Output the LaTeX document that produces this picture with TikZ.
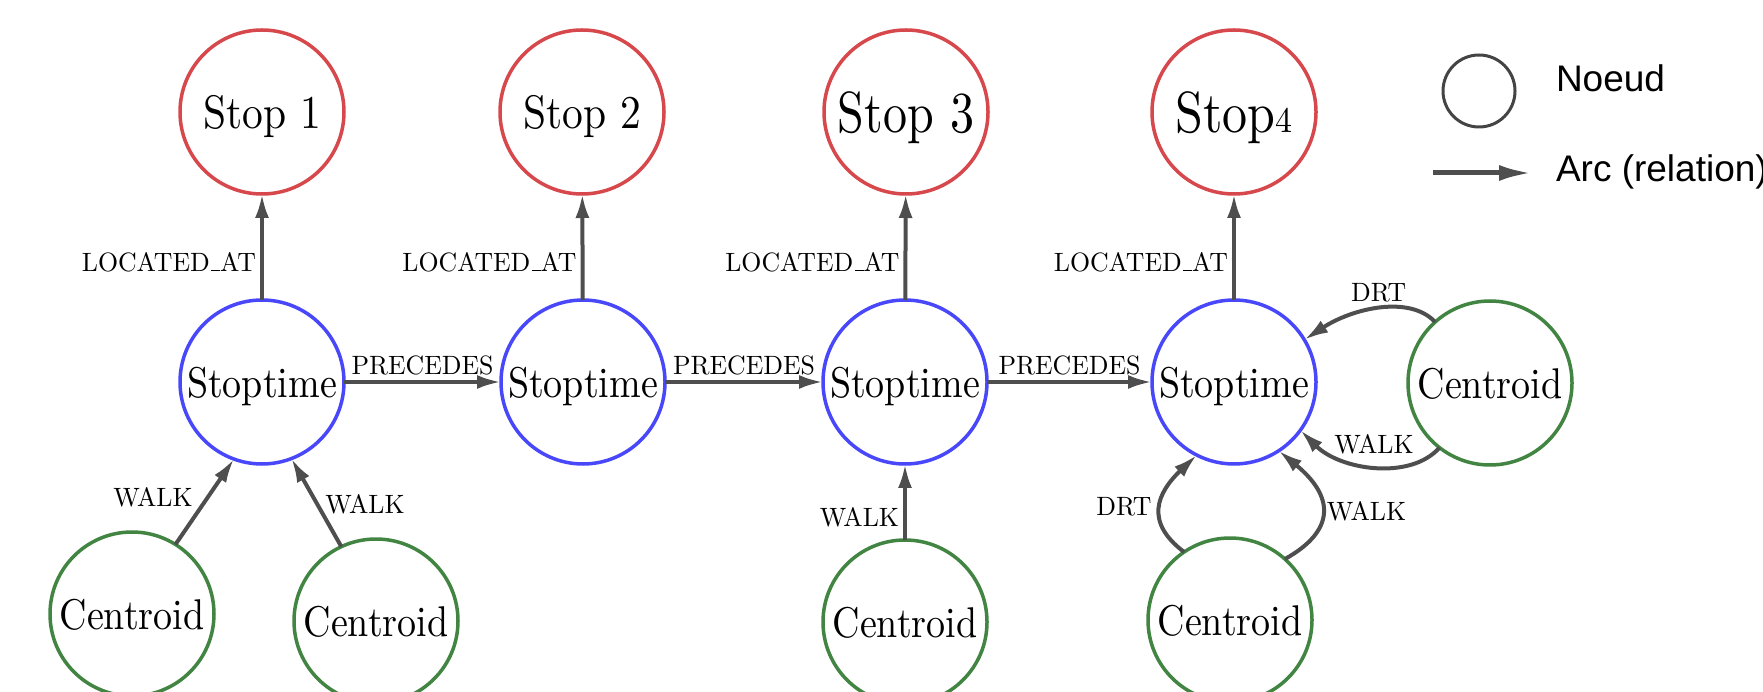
\documentclass[tikz,border=0pt]{standalone}
\usepackage{fontspec}
\usepackage{graphicx}
\usetikzlibrary{arrows.meta}
\newfontfamily\legendfont{Liberation Sans}
\definecolor{stopred}{RGB}{214,72,76}
\definecolor{timeblue}{RGB}{72,72,250}
\definecolor{centgreen}{RGB}{66,132,66}
\definecolor{arcgray}{RGB}{78,78,78}
\definecolor{legendgray}{RGB}{68,68,68}
% text helpers: design-size 10pt glyphs, scaled up
\newcommand\txtnode[1]{\scalebox{3.8}[4.3]{#1}}
\newcommand\txtstop[1]{\scalebox{4.15}[4.7]{#1}}
\newcommand\txtlbl[1]{\scalebox{2.58}[2.65]{#1}}
\newcommand\lowbar{\kern.06em\rule{.34em}{.4pt}}
\begin{document}
\begin{tikzpicture}[x=1pt,y=1pt,
  every node/.style={inner sep=0pt, outer sep=0pt},
  vertex/.style={circle, draw, line width=3.5pt, minimum size=164pt, text depth=0pt},
  stopv/.style={vertex, draw=stopred},
  timev/.style={vertex, draw=timeblue},
  centv/.style={vertex, draw=centgreen},
  rel/.style={draw=arcgray, line width=4pt, -{Latex[length=24pt,width=14pt]}},
  legendtext/.style={anchor=base west, font={\legendfont\fontsize{37}{41}\selectfont}},
]
\useasboundingbox (0,0) rectangle (1763,691);

% stops
\node[stopv] (s1) at (262,579) {\txtstop{Stop 1}};
\node[stopv] (s2) at (582,579) {\txtstop{Stop 2}};
\node[stopv] (s3) at (906,579) {\scalebox{4.8}[5.8]{Stop 3}};
\node[stopv] (s4) at (1234,579) {\scalebox{5}[5.8]{Stop}\scalebox{3.4}[3.6]{4}};

% stop times
\node[timev] (t1) at (262,309) {\txtnode{Stoptime}};
\node[timev] (t2) at (583,309) {\txtnode{Stoptime}};
\node[timev] (t3) at (905,309) {\txtnode{Stoptime}};
\node[timev] (t4) at (1234,309) {\txtnode{Stoptime}};

% centroids
\node[centv] (cA) at (132,77) {\txtnode{Centroid}};
\node[centv] (cB) at (376,70) {\txtnode{Centroid}};
\node[centv] (cC) at (905,69) {\txtnode{Centroid}};
\node[centv] (cD) at (1230,71) {\txtnode{Centroid}};
\node[centv] (cE) at (1490,308) {\txtnode{Centroid}};

% located at
\draw[rel] (t1) -- node[pos=0.36, left=6pt] {\txtlbl{LOCATED\lowbar AT}} (s1);
\draw[rel] (t2) -- node[pos=0.36, left=6pt] {\txtlbl{LOCATED\lowbar AT}} (s2);
\draw[rel] (t3) -- node[pos=0.36, left=6pt] {\txtlbl{LOCATED\lowbar AT}} (s3);
\draw[rel] (t4) -- node[pos=0.36, left=6pt] {\txtlbl{LOCATED\lowbar AT}} (s4);

% precedence chain
\draw[rel] (t1) -- node[midway, above=7pt] {\txtlbl{PRECEDES}} (t2);
\draw[rel] (t2) -- node[midway, above=7pt] {\txtlbl{PRECEDES}} (t3);
\draw[rel] (t3) -- node[midway, above=7pt] {\txtlbl{PRECEDES}} (t4);

% walks and DRT links
\draw[rel] (cA.58) -- node[pos=0.55, left=15pt] {\txtlbl{WALK}} (t1.250);
\draw[rel] (cB.115) -- node[pos=0.48, right=8pt] {\txtlbl{WALK}} (t1.291);
\draw[rel] (cC) -- node[pos=0.3, left=6pt] {\txtlbl{WALK}} (t3);
\draw[rel] (cE.132) .. controls +(-25,27) and +(49,32) .. node[pos=0.5, above=7pt] {\txtlbl{DRT}} (t4.31);
\draw[rel] (cE.232) .. controls +(-29,-33) and +(40,-40) .. node[pos=0.5, above=12pt] {\txtlbl{WALK}} (t4.324);
\draw[rel] (cD.124) .. controls +(-40,30) and +(-40,-38) .. node[pos=0.5, left=9pt] {\txtlbl{DRT}} (t4.243);
\draw[rel] (cD.48) .. controls +(52,29) and +(55,-45) .. node[pos=0.5, right=5pt] {\txtlbl{WALK}} (t4.303);

% legend
\node[circle, draw=legendgray, line width=3pt, minimum size=72pt] (lgc) at (1479,600) {};
\node[legendtext] (lgn) at (1556,599) {Noeud};
\coordinate (la) at (1433,518);
\coordinate (lb) at (1532,518);
\draw[draw=arcgray, line width=5pt, -{Latex[length=33pt,width=16pt]}] (la) -- (lb);
\node[legendtext] (lgr) at (1556,509) {Arc (relation)};
\end{tikzpicture}
\end{document}
